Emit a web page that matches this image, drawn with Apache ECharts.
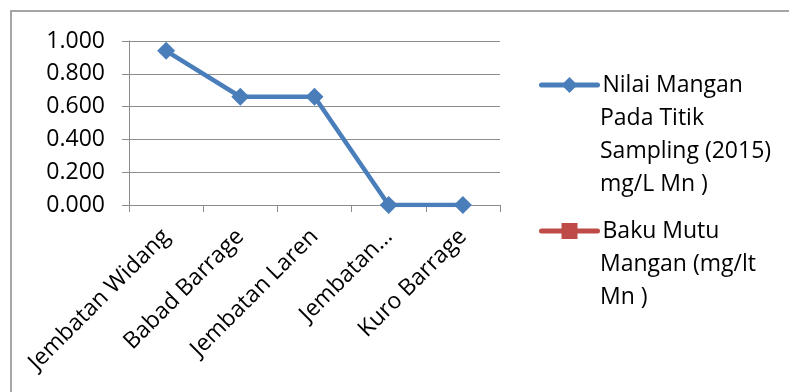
<!DOCTYPE html>
<html>
<head>
<meta charset="utf-8">
<script src="https://cdn.jsdelivr.net/npm/echarts@6/dist/echarts.min.js"></script>
<style>
  html, body { margin: 0; padding: 0; background: #fff; }
  #chart { width: 789px; height: 392px; }
</style>
</head>
<body>
<div id="chart"></div>
<script>
// Sampling points along the river
const categories = ['Jembatan Widang', 'Babad Barrage', 'Jembatan Laren', 'Jembatan…', 'Kuro Barrage'];
// Manganese at each sampling point, 2015 (mg/L Mn)
const nilaiMangan = [0.94, 0.66, 0.66, 0.0, 0.0];
// Quality standard for manganese (no values recorded)
const bakuMutu = [null, null, null, null, null];

// Series names, wrapped the way the legend shows them
const nameLines = [
  ['Nilai Mangan', 'Pada Titik', 'Sampling (2015)', 'mg/L Mn )'],
  ['Baku Mutu', 'Mangan (mg/lt', 'Mn )']
];
const seriesNames = nameLines.map(l => l.join(' '));

const FONT = '"Open Sans", "Noto Sans", sans-serif';
const FONT_SIZE = 23;
const GRID_COLOR = '#8c8c8c';
const LINE_H = 33;
const LEGEND_LEFT = 539;
const LEGEND_ICON_W = 56;
const LEGEND_ROWS = [85, 231];   // centre of each legend entry's first line

// One legend component per entry so each sits at its own row;
// the first line of each name goes with the icon, the rest wrap below.
function legendFor(idx) {
  return {
    data: [seriesNames[idx]],
    orient: 'vertical',
    left: LEGEND_LEFT,
    top: LEGEND_ROWS[idx] - LINE_H / 2,
    padding: 0,
    itemWidth: LEGEND_ICON_W,
    itemHeight: 20,
    selectedMode: false,
    lineStyle: { width: 5, cap: 'round' },
    formatter: () => nameLines[idx][0],
    textStyle: {
      fontFamily: FONT,
      fontSize: FONT_SIZE,
      color: '#000',
      lineHeight: LINE_H
    }
  };
}

function wrappedLines() {
  const out = [];
  nameLines.forEach((lines, idx) => {
    lines.slice(1).forEach((txt, k) => {
      out.push({
        type: 'text',
        x: LEGEND_LEFT + LEGEND_ICON_W + 5,
        y: LEGEND_ROWS[idx] + (k + 1) * LINE_H,
        silent: true,
        style: {
          text: txt,
          fontFamily: FONT,
          fontSize: FONT_SIZE,
          fill: '#000',
          verticalAlign: 'middle',
          align: 'left'
        }
      });
    });
  });
  return out;
}

const chart = echarts.init(document.getElementById('chart'), null, { renderer: 'canvas' });
chart.setOption({
  animation: false,
  backgroundColor: '#fff',
  graphic: [{
    type: 'rect',
    shape: { x: 11, y: 11, width: 800, height: 400 },
    style: { fill: 'none', stroke: '#a6a6a6', lineWidth: 2 },
    silent: true
  }].concat(wrappedLines()),
  grid: { left: 129, right: 289, top: 41, bottom: 187 },
  legend: [legendFor(0), legendFor(1)],
  xAxis: {
    type: 'category',
    data: categories,
    boundaryGap: true,
    axisLine: { lineStyle: { color: GRID_COLOR, width: 1 } },
    axisTick: { show: true, length: 7, alignWithLabel: false, lineStyle: { color: GRID_COLOR } },
    axisLabel: {
      rotate: 45,
      interval: 0,
      margin: 28,
      fontFamily: FONT,
      fontSize: FONT_SIZE,
      color: '#000'
    }
  },
  yAxis: {
    type: 'value',
    min: 0,
    max: 1,
    interval: 0.2,
    axisLine: { show: true, lineStyle: { color: GRID_COLOR, width: 1 } },
    axisTick: { show: true, length: 7, lineStyle: { color: GRID_COLOR } },
    splitLine: { show: true, lineStyle: { color: GRID_COLOR, width: 1 } },
    axisLabel: {
      margin: 24,
      fontFamily: FONT,
      fontSize: FONT_SIZE,
      color: '#000',
      formatter: v => v.toFixed(3)
    }
  },
  series: [
    {
      name: seriesNames[0],
      type: 'line',
      data: nilaiMangan,
      symbol: 'diamond',
      symbolSize: 18,
      lineStyle: { color: '#4A7EBB', width: 4.5 },
      itemStyle: { color: '#4A7EBB' }
    },
    {
      name: seriesNames[1],
      type: 'line',
      data: bakuMutu,
      symbol: 'rect',
      symbolSize: 14,
      lineStyle: { color: '#BE4B48', width: 4.5 },
      itemStyle: { color: '#BE4B48' }
    }
  ]
});
</script>
</body>
</html>
